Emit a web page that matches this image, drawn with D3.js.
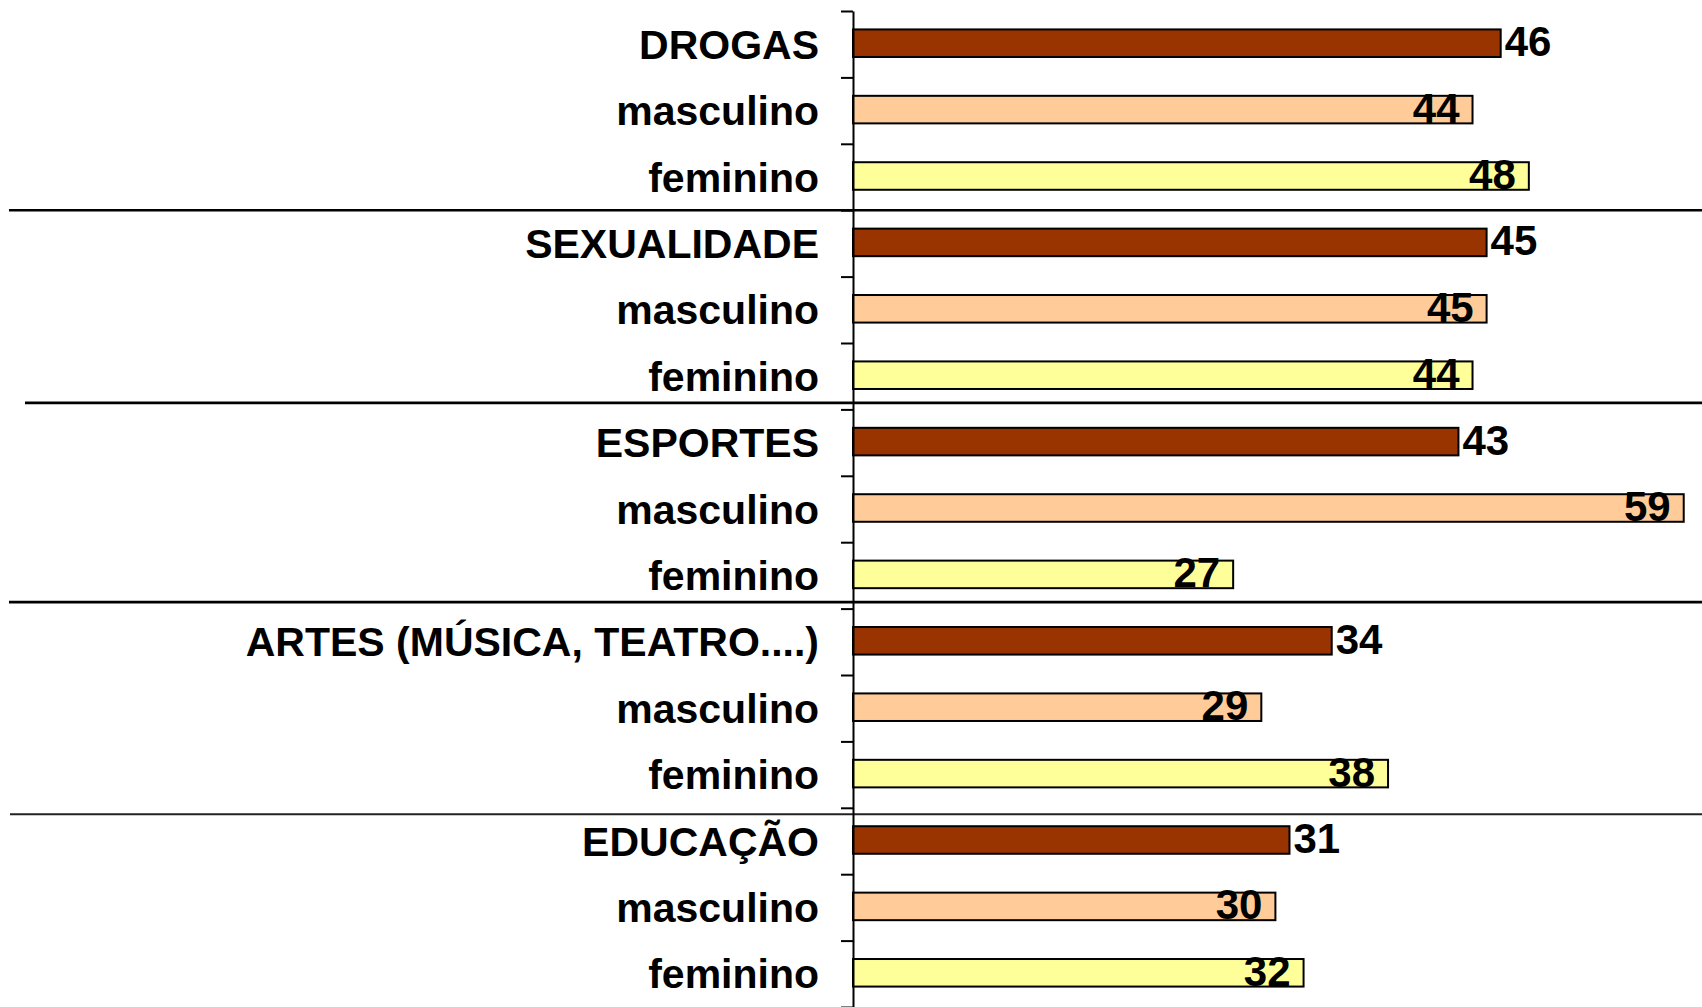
<!DOCTYPE html>
<html>
<head>
<meta charset="utf-8">
<script src="https://cdn.jsdelivr.net/npm/d3@7"></script>
<style>
  body { margin: 0; background: #fff; }
  text { font-family: "Liberation Sans", Arial, sans-serif; font-weight: bold; fill: #000; }
</style>
</head>
<body>
<div id="chart"></div>
<script>
// data
var groups = ["DROGAS", "SEXUALIDADE", "ESPORTES", "ARTES (MÚSICA, TEATRO....)", "EDUCAÇÃO"];
var subLabels = ["masculino", "feminino"];
var totalValues = [46, 45, 43, 34, 31];
var maleValues = [44, 45, 59, 29, 30];
var femaleValues = [48, 44, 27, 38, 32];

var colors = ["#993300", "#FFCC99", "#FFFF99"];

// one row per bar: group total, then masculino, feminino
var rows = [];
groups.forEach(function(g, i) {
  rows.push({label: g, value: totalValues[i], kind: 0});
  rows.push({label: subLabels[0], value: maleValues[i], kind: 1});
  rows.push({label: subLabels[1], value: femaleValues[i], kind: 2});
});

var width = 1702, height = 1007;
var axisX = 853, plotTop = 11, plotBottom = 1007;

var svg = d3.select("#chart").append("svg")
    .attr("width", width)
    .attr("height", height);

var xScale = d3.scaleLinear()
    .domain([0, 60])
    .range([axisX, axisX + 60 * 14.08]);

// boundaries between rows, for the tick marks
var yIdx = d3.scaleLinear()
    .domain([0, rows.length])
    .range([plotTop, plotBottom]);

var yScale = d3.scaleBand()
    .domain(d3.range(rows.length))
    .range([plotTop, plotBottom])
    .paddingInner(0.585)
    .paddingOuter(0.2925);

// separator lines between the groups (hand drawn in the original, hence the nudges)
var sepNudge = [0, -6.5, -6.5, 6.5];
var sepStart = [9, 25, 9, 10];
var sepWidth = [2.6, 2.6, 2.6, 2];
d3.range(1, groups.length).forEach(function(k, i) {
  var y = yIdx(k * 3) + sepNudge[i];
  svg.append("line")
      .attr("x1", sepStart[i]).attr("x2", width)
      .attr("y1", y).attr("y2", y)
      .attr("stroke", i == 3 ? "#222" : "#000")
      .attr("stroke-width", sepWidth[i]);
});

// bars
svg.selectAll(".bar")
    .data(rows)
  .enter().append("rect")
    .attr("class", "bar")
    .attr("x", xScale(0))
    .attr("y", function(d, i) { return yScale(i) - 1; })
    .attr("width", function(d) { return xScale(d.value) - xScale(0); })
    .attr("height", yScale.bandwidth())
    .attr("fill", function(d) { return colors[d.kind]; })
    .attr("stroke", "#000")
    .attr("stroke-width", 2);

// y axis with ticks at row boundaries
var axis = svg.append("g")
    .attr("transform", "translate(" + axisX + ",0)")
    .call(d3.axisLeft(yIdx)
      .tickValues(d3.range(rows.length + 1))
      .tickSize(12)
      .tickSizeOuter(0)
      .tickFormat(""));
axis.select(".domain").attr("stroke", "#000").attr("stroke-width", 2);
axis.selectAll(".tick line").attr("stroke", "#000").attr("stroke-width", 2);

// category labels
svg.selectAll(".cat")
    .data(rows)
  .enter().append("text")
    .attr("class", "cat")
    .attr("x", 819)
    .attr("y", function(d, i) { return yIdx(i + 0.5) + 14.5; })
    .attr("text-anchor", "end")
    .style("font-size", "41px")
    .text(function(d) { return d.label; });

// value labels: outside for totals, inside end for masculino / feminino
svg.selectAll(".val")
    .data(rows)
  .enter().append("text")
    .attr("class", "val")
    .attr("x", function(d) { return d.kind == 0 ? xScale(d.value) + 4 : xScale(d.value) - 13; })
    .attr("y", function(d, i) { return yIdx(i + 0.5) + 12; })
    .attr("text-anchor", function(d) { return d.kind == 0 ? "start" : "end"; })
    .style("font-size", "42px")
    .text(function(d) { return d.value; });
</script>
</body>
</html>
